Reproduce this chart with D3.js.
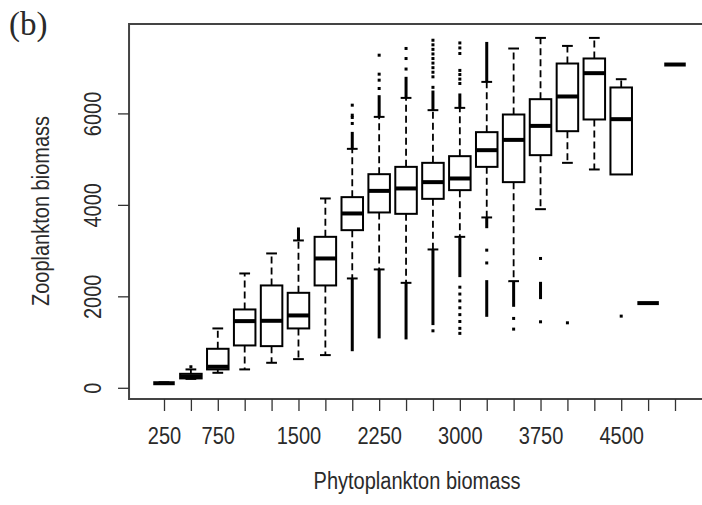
<!DOCTYPE html>
<html lang="en">
<head>
  <meta charset="UTF-8">
  <title>Zooplankton vs Phytoplankton boxplot</title>
  <script src="https://d3js.org/d3.v7.min.js"></script>
  <style>
    body, html {
      margin: 0;
      padding: 0;
      background-color: #ffffff;
    }
    svg text {
      font-family: 'Liberation Sans', Arial, sans-serif;
      fill: #2a2a2a;
    }
  </style>
</head>
<body>
<svg id="chart" width="702" height="505"></svg>

<script>
  // phytoplankton biomass classes (x categories)
  const phyto = [250, 500, 750, 1000, 1250, 1500, 1750, 2000, 2250, 2500,
                 2750, 3000, 3250, 3500, 3750, 4000, 4250, 4500, 4750, 5000];
  // R drops labels that would overlap
  const xLabels = ["250", "", "750", "", "", "1500", "", "", "2250", "",
                   "", "3000", "", "", "3750", "", "", "4500", "", ""];
  const yTicks = [0, 2000, 4000, 6000];

  // box statistics
  const lowWhisker = [85, 195, 328, 402, 547, 627, 715, 2391, 2588, 2295,
                      3025, 3301, 3725, 2332, 3906, 4919, 4774, 4665, 1852, 7069];
  const q1 = [92, 205, 402, 926, 911, 1298, 2238, 3447, 3834, 3804,
              4132, 4322, 4831, 4497, 5087, 5611, 5867, 4665, 1852, 7069];
  const median = [100, 250, 460, 1458, 1465, 1582, 2828, 3812, 4306, 4359,
                  4497, 4577, 5196, 5421, 5727, 6370, 6880, 5874, 1852, 7069];
  const q3 = [110, 306, 853, 1713, 2238, 2077, 3301, 4169, 4671, 4831,
              4919, 5065, 5590, 5976, 6311, 7091, 7201, 6567, 1852, 7069];
  const highWhisker = [120, 402, 1298, 2500, 2938, 3222, 4140, 5225, 5924, 6339,
                       6071, 6121, 6689, 7419, 7651, 7476, 7651, 6748, 1852, 7069];

  // stretches where outliers are so dense they merge into a line: [class index, from, to]
  const outlierRuns = [
    [5, 3230, 3506],
    [7, 5230, 5596], [7, 800, 2380],
    [8, 5930, 6398], [8, 1080, 2580],
    [9, 6345, 6800], [9, 1058, 2290],
    [10, 6075, 6500], [10, 1371, 3020],
    [11, 6125, 6436], [11, 2420, 3290],
    [12, 6695, 7563], [12, 3490, 3720], [12, 1552, 2354],
    [13, 1771, 2325],
    [14, 1939, 2317]
  ];
  // single outliers: [class index, value]
  const outlierDots = [
    [1, 460],
    [7, 5780], [7, 5911], [7, 5961], [7, 6180],
    [8, 6545], [8, 6727], [8, 6858], [8, 7273],
    [9, 6970], [9, 7200], [9, 7420],
    [10, 6570], [10, 6800], [10, 6900], [10, 7000], [10, 7100], [10, 7200],
    [10, 7300], [10, 7400], [10, 7500], [10, 7600], [10, 1246],
    [11, 6654], [11, 6750], [11, 6850], [11, 6940], [11, 7310], [11, 7432], [11, 7541],
    [11, 2200], [11, 2050], [11, 1900], [11, 1750], [11, 1600], [11, 1450], [11, 1300], [11, 1190],
    [12, 3010], [12, 2730],
    [13, 1517], [13, 1283],
    [14, 2828], [14, 1443],
    [15, 1421],
    [17, 1567]
  ];

  const svg = d3.select("#chart");

  const x = d3.scalePoint().domain(d3.range(phyto.length)).range([164, 675]);
  const step = x.step();
  const y = d3.scaleLinear().domain([-245, 7955]).range([399, 24]);

  const left = x(0) - 1.3 * step;
  const boxW = 0.8 * step;
  const stapleW = 0.5 * boxW;
  const squeeze = "scale(0.87,1)"; // the original font is a bit narrow and tall

  // plot frame (right side runs off the picture)
  svg.append("rect")
      .attr("x", left).attr("y", y.range()[1])
      .attr("width", 760 - left).attr("height", y.range()[0] - y.range()[1])
      .attr("fill", "none")
      .attr("stroke", "#444")
      .attr("stroke-width", 2);

  // x axis
  const xAxis = svg.append("g")
      .attr("transform", `translate(0,${y.range()[0]})`)
      .call(d3.axisBottom(x).tickSize(12).tickSizeOuter(0).tickFormat(i => xLabels[i]));
  xAxis.select(".domain").remove();
  xAxis.selectAll(".tick line").attr("stroke", "#333").attr("stroke-width", 1.3);
  xAxis.selectAll(".tick text")
      .attr("y", 45).attr("dy", null)
      .attr("transform", squeeze)
      .style("font-size", "23px")
      .attr("fill", "#2a2a2a");

  // y axis
  const yAxis = svg.append("g")
      .attr("transform", `translate(${left},0)`)
      .call(d3.axisLeft(y).tickValues(yTicks).tickSize(11).tickSizeOuter(0).tickFormat(d3.format("d")));
  yAxis.select(".domain").remove();
  yAxis.selectAll(".tick line").attr("stroke", "#333").attr("stroke-width", 1.3);
  yAxis.selectAll(".tick text")
      .attr("x", null).attr("dy", null)
      .attr("text-anchor", "middle")
      .attr("transform", `translate(-28,0) rotate(-90) ${squeeze}`)
      .style("font-size", "23px")
      .attr("fill", "#2a2a2a");

  // boxes
  const g = svg.append("g");
  phyto.forEach((p, i) => {
    const cx = x(i);
    // whiskers
    [[q3[i], highWhisker[i]], [q1[i], lowWhisker[i]]].forEach(([a, b]) => {
      if (a === b) return;
      g.append("line")
          .attr("x1", cx).attr("x2", cx)
          .attr("y1", y(a)).attr("y2", y(b))
          .attr("stroke", "#000").attr("stroke-width", 1.8)
          .attr("stroke-dasharray", "7,4");
      g.append("line")
          .attr("x1", cx - stapleW / 2).attr("x2", cx + stapleW / 2)
          .attr("y1", y(b)).attr("y2", y(b))
          .attr("stroke", "#000").attr("stroke-width", 2);
    });
    if (q3[i] > q1[i] + 40) {
      g.append("rect")
          .attr("x", cx - boxW / 2).attr("y", y(q3[i]))
          .attr("width", boxW).attr("height", y(q1[i]) - y(q3[i]))
          .attr("fill", "#fff")
          .attr("stroke", "#000").attr("stroke-width", 2);
    }
    g.append("line")
        .attr("x1", cx - boxW / 2).attr("x2", cx + boxW / 2)
        .attr("y1", y(median[i])).attr("y2", y(median[i]))
        .attr("stroke", "#000").attr("stroke-width", 4);
  });

  // outliers
  g.selectAll(".run").data(outlierRuns).join("rect")
      .attr("class", "run")
      .attr("x", d => x(d[0]) - 1.5).attr("width", 3)
      .attr("y", d => y(d[2])).attr("height", d => y(d[1]) - y(d[2]))
      .attr("fill", "#000");
  g.selectAll(".dot").data(outlierDots).join("rect")
      .attr("class", "dot")
      .attr("x", d => x(d[0]) - 1.5).attr("width", 3)
      .attr("y", d => y(d[1]) - 1.5).attr("height", 3)
      .attr("fill", "#000");

  // titles
  svg.append("text")
      .attr("transform", `translate(417,489) ${squeeze}`)
      .attr("text-anchor", "middle")
      .style("font-size", "23px")
      .text("Phytoplankton biomass");

  svg.append("text")
      .attr("transform", `translate(49,211) rotate(-90) ${squeeze}`)
      .attr("text-anchor", "middle")
      .style("font-size", "23px")
      .text("Zooplankton biomass");

  svg.append("text")
      .attr("x", 9).attr("y", 35)
      .style("font-family", "'Liberation Serif', 'Times New Roman', serif")
      .style("font-size", "33px")
      .attr("fill", "#000")
      .text("(b)");
</script>
</body>
</html>
